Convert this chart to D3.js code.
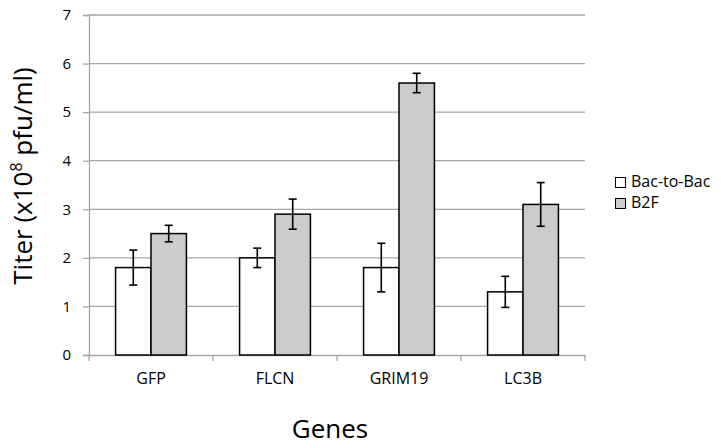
<!DOCTYPE html>
<html><head><meta charset="utf-8">
<script src="https://cdn.jsdelivr.net/npm/d3@7"></script>
<style>body{margin:0;background:#fff}svg{display:block}text{font-family:"Open Sans",sans-serif;fill:#000}</style>
</head><body>
<script>
const categories = ["GFP","FLCN","GRIM19","LC3B"];
const seriesNames = ["Bac-to-Bac","B2F"];
const bacToBac = [1.8, 2.0, 1.8, 1.3];
const bacToBacErr = [0.36, 0.2, 0.5, 0.32];
const b2f = [2.5, 2.9, 5.6, 3.1];
const b2fErr = [0.17, 0.31, 0.2, 0.45];
const yTicks = [0,1,2,3,4,5,6,7];
const colors = ["#ffffff","#cbcbcb"];

const W=721,H=448;
const svg=d3.select("body").append("svg").attr("width",W).attr("height",H);
const x=d3.scaleBand().domain(categories).range([89,585]);
const xs=d3.scaleBand().domain(seriesNames).range([0,x.bandwidth()]).paddingOuter(0.75).paddingInner(0);
const y=d3.scaleLinear().domain([0,7]).range([355,15]);

// gridlines
svg.append("g").selectAll("line").data(yTicks.filter(d=>d>0)).join("line")
 .attr("x1",89).attr("x2",585).attr("y1",d=>y(d)).attr("y2",d=>y(d))
 .attr("stroke","#a6a6a6").attr("stroke-width",1.3);

// y axis
const ya=svg.append("g").attr("transform","translate(89,0)")
 .call(d3.axisLeft(y).tickValues(yTicks).tickSize(6).tickPadding(12).tickFormat(d3.format("d")));
ya.select(".domain").attr("stroke","#a6a6a6").attr("stroke-width",1.3);
ya.selectAll(".tick line").attr("stroke","#a6a6a6").attr("stroke-width",1.3);
ya.selectAll("text").attr("font-size",15).attr("font-family","Open Sans");

// x axis
const xa=svg.append("g").attr("transform","translate(0,355)")
 .call(d3.axisBottom(x).tickSize(0).tickPadding(18));
xa.select(".domain").attr("stroke","#a6a6a6").attr("stroke-width",1.3);
xa.selectAll("text").attr("font-size",16).attr("font-family","Open Sans");
xa.selectAll("line.bd").data(categories.map(c=>x(c)).concat([585])).join("line").attr("class","bd")
 .attr("x1",d=>d).attr("x2",d=>d).attr("y1",0).attr("y2",6).attr("stroke","#a6a6a6").attr("stroke-width",1.3);

const data=categories.map((c,i)=>[
 {cat:c,s:seriesNames[0],v:bacToBac[i],e:bacToBacErr[i],fill:colors[0]},
 {cat:c,s:seriesNames[1],v:b2f[i],e:b2fErr[i],fill:colors[1]}]).flat();

svg.append("g").selectAll("rect").data(data).join("rect")
 .attr("x",d=>x(d.cat)+xs(d.s)).attr("width",xs.bandwidth())
 .attr("y",d=>y(d.v)).attr("height",d=>y(0)-y(d.v))
 .attr("fill",d=>d.fill).attr("stroke","#000").attr("stroke-width",1.5);

const eb=svg.append("g").attr("stroke","#000").attr("stroke-width",1.6);
data.forEach(d=>{
 const cx=x(d.cat)+xs(d.s)+xs.bandwidth()/2;
 eb.append("line").attr("x1",cx).attr("x2",cx).attr("y1",y(d.v+d.e)).attr("y2",y(d.v-d.e));
 [d.v+d.e,d.v-d.e].forEach(v=>eb.append("line").attr("x1",cx-4).attr("x2",cx+4).attr("y1",y(v)).attr("y2",y(v)));
});

// axis titles
svg.append("text").attr("x",330).attr("y",438).attr("text-anchor","middle").attr("font-size",26).text("Genes");
const yt=svg.append("text").attr("transform","translate(32,176) rotate(-90)").attr("text-anchor","middle").attr("font-size",26);
yt.append("tspan").text("Titer (x10");
yt.append("tspan").attr("font-size",16).attr("dy",-10).text("8");
yt.append("tspan").attr("dy",10).text(" pfu/ml)");

// legend
const lg=svg.append("g");
seriesNames.forEach((s,i)=>{
 lg.append("rect").attr("x",615.5).attr("y",177.5+i*21).attr("width",10).attr("height",10)
  .attr("fill",colors[i]).attr("stroke","#000").attr("stroke-width",1);
 lg.append("text").attr("x",631).attr("y",187+i*21).attr("font-size",16).text(s);
});
</script>
</body></html>
